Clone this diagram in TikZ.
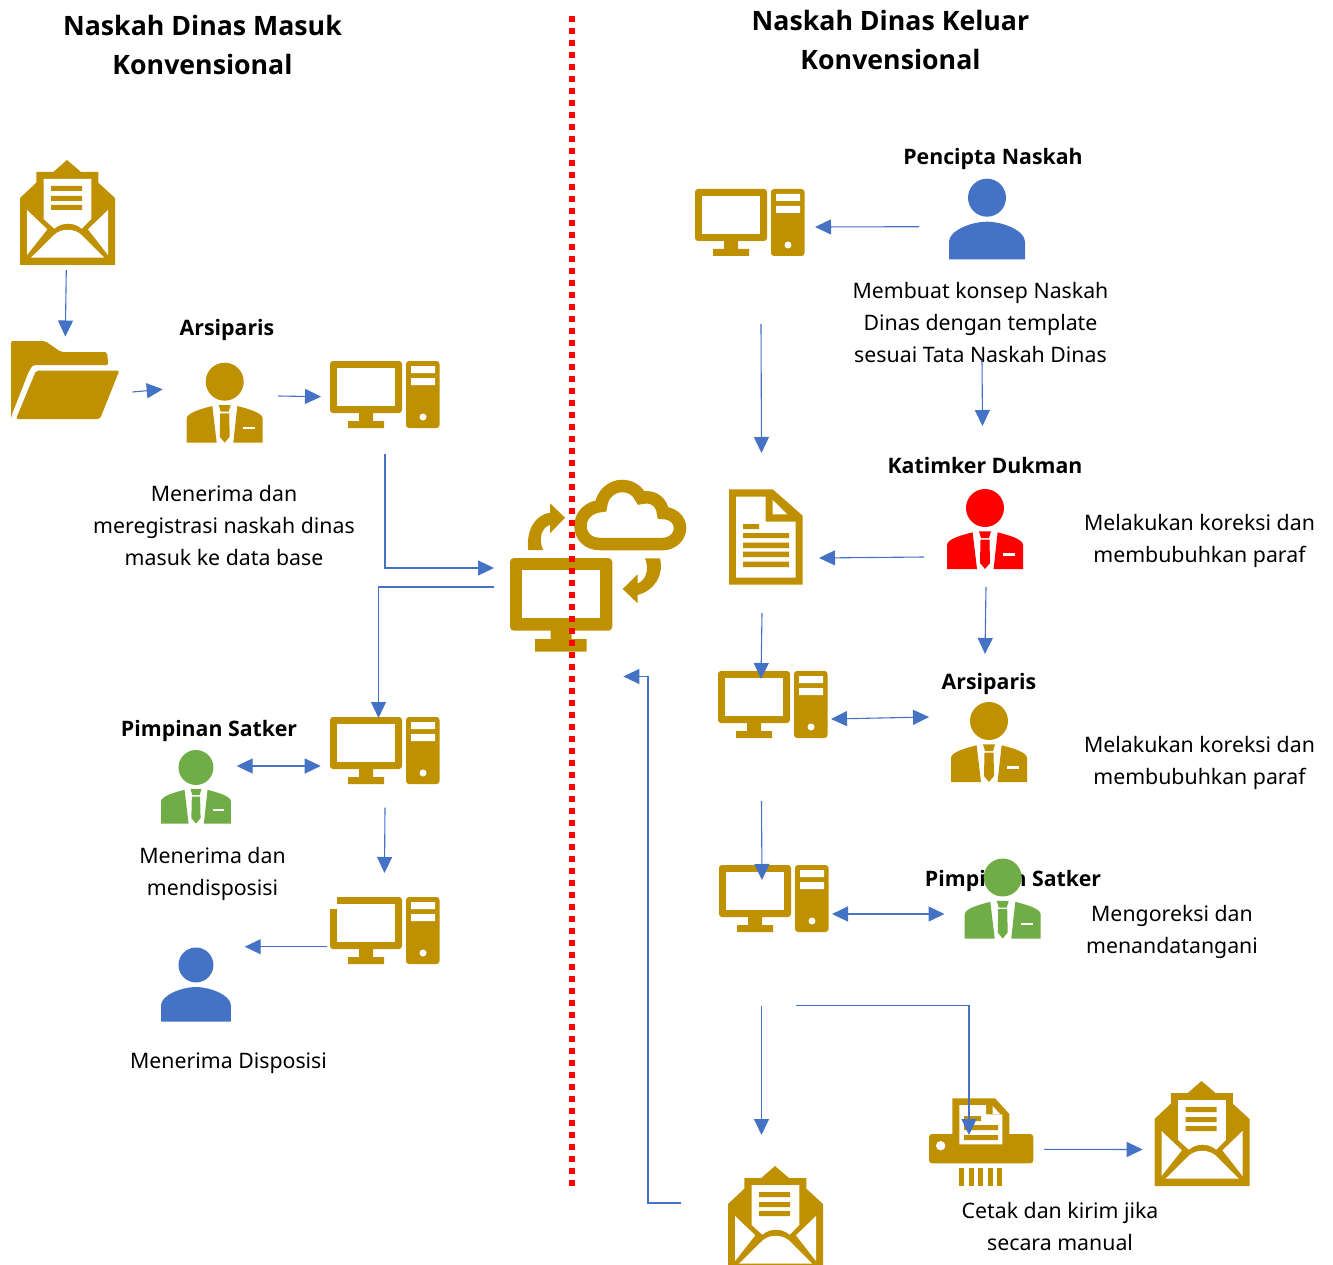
\documentclass[tikz,border=0pt]{standalone}
\usepackage{fontspec}
\setmainfont{Noto Sans}
\newfontfamily\headfont{Open Sans}
\usetikzlibrary{arrows.meta}
\definecolor{gold}{HTML}{BF9000}
\definecolor{flowblue}{HTML}{4472C4}
\definecolor{suitgreen}{HTML}{70AD47}
\tikzset{
  flow/.style={flowblue, line width=1.1pt, -{Triangle[length=16pt,width=15pt]}},
  flowboth/.style={flowblue, line width=1.1pt, {Triangle[length=16pt,width=15pt]}-{Triangle[length=16pt,width=15pt]}},
  bodytext/.style={align=center, font=\fontsize{21.3}{32}\selectfont, inner sep=0pt},
  headtext/.style={align=center, font=\headfont\fontsize{21.3}{32}\selectfont\bfseries, inner sep=0pt},
  titletext/.style={align=center, font=\headfont\fontsize{26.7}{39.5}\selectfont\bfseries, inner sep=0pt},
  desktop/.pic={
    \fill[gold, rounded corners=3pt] (0,0) rectangle (72,52);
    \fill[white] (7,7) rectangle (65,45);
    \fill[gold] (29,52) rectangle (43,60) (18,60) rectangle (54,67);
    \fill[gold, rounded corners=3pt] (76,0) rectangle (109.5,67);
    \fill[white] (81,5) rectangle (105,12) (81,17) rectangle (105,24);
    \fill[white] (93,56) circle (3.5);
  },
  mail/.pic={
    \fill[gold] (0,38) -- (16.3,22.7) -- (16.3,12) -- (33.3,12) -- (47,0) -- (61,12) -- (78.3,12)
      -- (78.3,22.7) -- (95,38) -- (95,105) -- (0,105) -- cycle;
    \fill[white] (23.7,19) -- (71.3,19) -- (71.3,59) -- (61.7,68.7) .. controls (54,62) and (42,62) .. (34.3,68.7)
      -- (23.7,59) -- cycle;
    \fill[gold] (31,26) rectangle (62,31) (31,36) rectangle (62,41) (31,45) rectangle (62,50);
    \fill[white] (7,50) -- (27.3,69.3) -- (7,95) -- cycle (88,50) -- (68,69.3) -- (88,95) -- cycle;
    \fill[white] (11,97.7) -- (84.3,97.7) -- (61.7,75) .. controls (54,68) and (41,68) .. (34,75) -- cycle;
  },
  suitman/.pic={
    \fill[#1] (38,19) circle (19);
    \fill[#1] (0,80) -- (0,56) .. controls (0,50) and (15,46) .. (25.6,43.3) -- (30,80) -- cycle;
    \fill[#1] (76,80) -- (76,56) .. controls (76,50) and (61,46) .. (50.6,43.3) -- (46.6,80) -- cycle;
    \fill[#1] (32,42.3) -- (44,42.3) -- (42,49) -- (34,49) -- cycle;
    \fill[#1] (33.5,50.7) -- (42.5,50.7) -- (43,74) -- (38,80) -- (33,74) -- cycle;
    \fill[white] (56,64) rectangle (68,66.7);
  },
  plainman/.pic={
    \fill[flowblue] (38,19) circle (19);
    \fill[flowblue] (0,80.6) -- (0,63) .. controls (0,52) and (22,43) .. (38,43) .. controls (54,43) and (76,52) .. (76,63)
      -- (76,80.6) -- cycle;
  },
}
\begin{document}
\begin{tikzpicture}[x=1pt, y=-1pt]
\useasboundingbox (0,0) rectangle (1333,1265);

% titles and captions
\node[titletext] (titlein) at (202.5,45) {Naskah Dinas Masuk\\Konvensional};
\node[titletext] (titleout) at (890.5,40) {Naskah Dinas Keluar\\Konvensional};
\node[headtext] (arsipin) at (227,330) {Arsiparis};
\node[bodytext] (regtext) at (224,526) {Menerima dan\\meregistrasi naskah dinas\\masuk ke data base};
\node[headtext] (pimpin) at (209,731) {Pimpinan Satker};
\node[bodytext] (disptext) at (212.5,874) {Menerima dan\\mendisposisi};
\node[bodytext] (terimatext) at (228.5,1063) {Menerima Disposisi};
\node[headtext] (pencipta) at (993,159) {Pencipta Naskah};
\node[bodytext] (konsep) at (980.5,323) {Membuat konsep Naskah\\Dinas dengan template\\sesuai Tata Naskah Dinas};
\node[headtext] (katimker) at (985,466) {Katimker Dukman};
\node[bodytext] (koreksia) at (1199.5,541) {Melakukan koreksi dan\\membubuhkan paraf};
\node[headtext] (arsipout) at (989,684) {Arsiparis};
\node[bodytext] (koreksib) at (1199.5,763) {Melakukan koreksi dan\\membubuhkan paraf};
\node[headtext] (pimpout) at (1013,881) {Pimpinan Satker};
\node[bodytext] (tandatext) at (1172,932) {Mengoreksi dan\\menandatangani};
\node[bodytext] (cetak) at (1060,1226.5) {Cetak dan kirim jika\\secara manual};

% left side icons
\pic at (20,160) {mail};
\fill[gold, rounded corners=2pt] (11,419) -- (11,341) -- (45,341) -- (61,352) -- (107,352) -- (108.3,365) -- (33,365)
  -- (29,371) -- (11.7,415) -- cycle;
\fill[gold, rounded corners=2pt] (36,370.7) -- (119.3,370.7) -- (100,419) -- (16,419) -- cycle;
\pic at (186.7,362.7) {suitman=gold};
\pic at (330,361) {desktop};
\pic at (330,717) {desktop};
\pic[scale=.92] at (161,750) {suitman=suitgreen};
\pic at (330,897) {desktop};
\fill[white] (329,896) rectangle (337,909);
\pic[scale=.92] at (161,947.5) {plainman};

% cloud and server in the middle
\fill[gold, rounded corners=4pt] (510,558) rectangle (612.3,630.7);
\fill[white] (522.3,570) rectangle (600,618.3);
\fill[gold] (550.7,630) rectangle (571.7,640) (535,639) rectangle (586.7,651.7);
\draw[gold, line width=12.5pt] (600,544) .. controls (588,544) and (580.5,536) .. (580.5,526)
  .. controls (580.5,515) and (589,507) .. (601,506) .. controls (602,494) and (612,486) .. (622,486)
  .. controls (631,486) and (638,491) .. (641,498) .. controls (653,495) and (662,502) .. (663,513)
  .. controls (673,513) and (680,520) .. (680,528) .. controls (680,537) and (672,544) .. (663,544) -- cycle;
\fill[gold] (528.3,550) .. controls (526,530) and (535,515) .. (550,512.7) -- (550,503.3) -- (565,517.7) -- (550,533.3)
  -- (550,525) .. controls (542,527) and (538,538) .. (543,550) -- cycle;
\fill[gold] (645,558.3) .. controls (650,570) and (645,581) .. (637.7,583.3) -- (637.7,574.3) -- (622.7,589) -- (637.7,603.3)
  -- (637.7,595) .. controls (655,590) and (664,575) .. (660,558.3) -- cycle;

% right side icons
\pic at (695,189) {desktop};
\pic at (949,178.7) {plainman};
\fill[gold] (729,489.3) -- (772.7,489.3) -- (802.7,515.7) -- (802.7,584.7) -- (729,584.7) -- cycle;
\fill[white] (736,496.7) -- (765.7,496.7) -- (765.7,521.7) -- (795.7,521.7) -- (795.7,577.7) -- (736,577.7) -- cycle;
\fill[white] (772.7,500) -- (787.3,514.3) -- (772.7,514.3) -- cycle;
\fill[gold] (743,524) rectangle (759,529) (743,533) rectangle (789,538) (743,542.7) rectangle (789,548)
  (743,551.7) rectangle (789,557) (743,561.7) rectangle (789,567);
\pic at (947,489) {suitman=red};
\pic at (718,671) {desktop};
\pic at (951,702) {suitman=gold};
\pic at (719,865) {desktop};
\pic at (964.7,858.5) {suitman=suitgreen};
\pic at (728,1166) {mail};
\pic at (1154.5,1081) {mail};

% printer
\fill[gold] (952.3,1098.3) -- (995,1098.3) -- (1009.3,1114) -- (1009.3,1140) -- (952.3,1140) -- cycle;
\fill[gold, rounded corners=3pt] (929,1134) rectangle (1033.3,1163.3);
\fill[white] (959.3,1105) -- (986,1105) -- (986,1114.3) -- (1002.3,1114.3) -- (1002.3,1144.3) -- (959.3,1144.3) -- cycle;
\fill[white] (992.7,1106) -- (1000,1114) -- (992.7,1114) -- cycle;
\fill[gold] (964,1116) rectangle (981,1121) (964,1125) rectangle (998,1130) (964,1135) rectangle (998,1140);
\fill[white] (940.7,1145.7) circle (4.7);
\foreach \s in {959,968.6,978,987.6,997}
  \fill[gold] (\s,1168.3) rectangle (\s+5,1185.7);

% free ends of the connectors
\coordinate (a1) at (66.3,270);   \coordinate (a2) at (65.3,336.5);
\coordinate (b1) at (132.3,392);  \coordinate (b2) at (162.7,389.3);
\coordinate (c1) at (278.3,396);  \coordinate (c2) at (321,396.7);
\coordinate (d1) at (385,454);    \coordinate (d2) at (494,568);
\coordinate (e1) at (494,587);    \coordinate (e2) at (378.5,718);
\coordinate (f1) at (236.7,766);  \coordinate (f2) at (320.7,766);
\coordinate (g1) at (385,807.5);  \coordinate (g2) at (384.5,873);
\coordinate (h1) at (327,946.7);  \coordinate (h2) at (244.7,946.7);
\coordinate (i1) at (919,226.7);  \coordinate (i2) at (815,227);
\coordinate (j1) at (761,324);    \coordinate (j2) at (761.5,453);
\coordinate (k1) at (982,360);    \coordinate (k2) at (982.5,426);
\coordinate (l1) at (924,557);    \coordinate (l2) at (819,558);
\coordinate (m1) at (986,587);    \coordinate (m2) at (985,654);
\coordinate (n1) at (762,613);    \coordinate (n2) at (761,679);
\coordinate (o1) at (831,719);    \coordinate (o2) at (929,717);
\coordinate (p1) at (761.5,801);  \coordinate (p2) at (762,880);
\coordinate (q1) at (832,914);    \coordinate (q2) at (944.5,914);
\coordinate (r1) at (761.5,1006); \coordinate (r2) at (761.5,1135);
\coordinate (s1) at (796,1005.7); \coordinate (s2) at (969,1135);
\coordinate (t1) at (1044,1149.3);\coordinate (t2) at (1142.7,1149.5);
\coordinate (u1) at (681,1203);   \coordinate (u2) at (623.3,676.5);

\draw[flow] (a1) -- (a2);
\draw[flow] (b1) -- (b2);
\draw[flow] (c1) -- (c2);
\draw[flow] (d1) |- (d2);
\draw[flow] (e1) -| (e2);
\draw[flowboth] (f1) -- (f2);
\draw[flow] (g1) -- (g2);
\draw[flow] (h1) -- (h2);
\draw[flow] (i1) -- (i2);
\draw[flow] (j1) -- (j2);
\draw[flow] (k1) -- (k2);
\draw[flow] (l1) -- (l2);
\draw[flow] (m1) -- (m2);
\draw[flow] (n1) -- (n2);
\draw[flowboth] (o1) -- (o2);
\draw[flow] (p1) -- (p2);
\draw[flowboth] (q1) -- (q2);
\draw[flow] (r1) -- (r2);
\draw[flow] (s1) -| (s2);
\draw[flow] (t1) -- (t2);
\draw[flow] (u1) -- (648,1203) -- (648,676.5) -- (u2);

% dotted divider
\draw[red, line width=6pt, dash pattern=on 6pt off 6pt] (572,16) -- (572,1186);
\end{tikzpicture}
\end{document}
